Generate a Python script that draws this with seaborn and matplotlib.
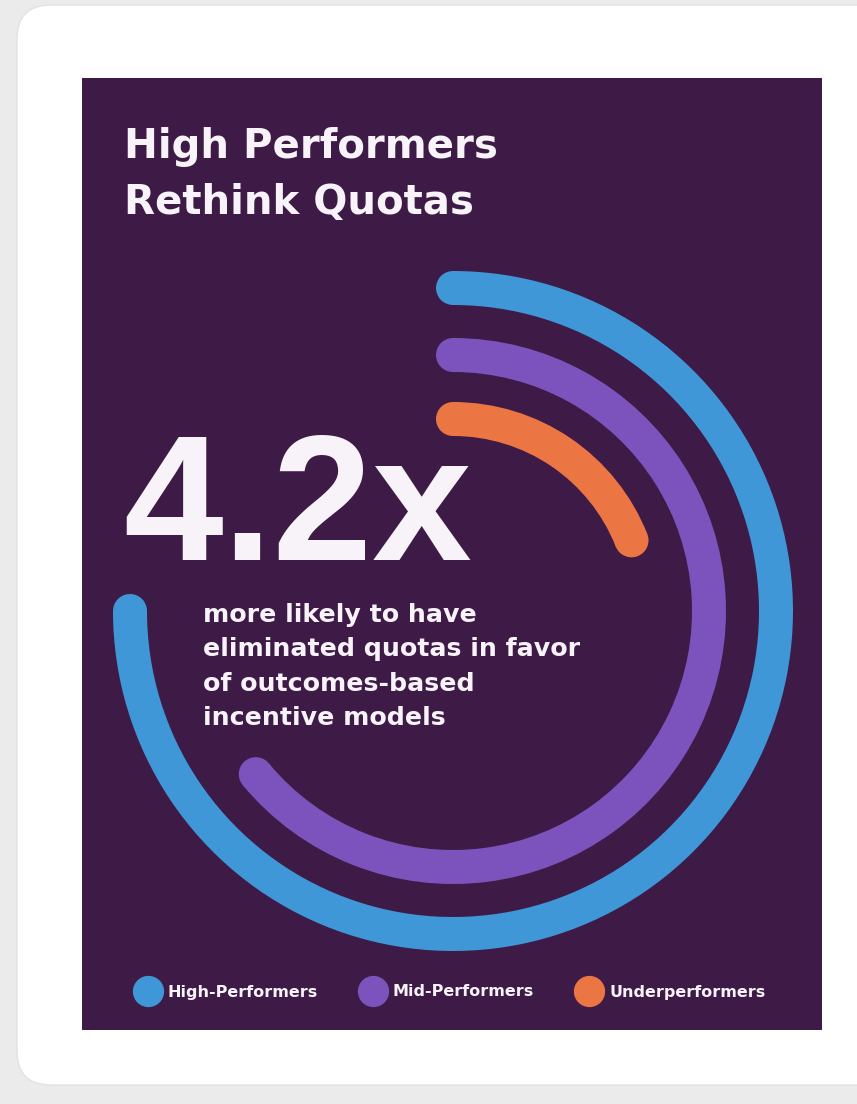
import numpy as np
import pandas as pd
import seaborn as sns
import matplotlib
matplotlib.use("Agg")
import matplotlib.pyplot as plt
from matplotlib.patches import FancyBboxPatch, Rectangle
from matplotlib.lines import Line2D

# ---- data ----
groups = ["High-Performers", "Mid-Performers", "Underperformers"]
share_of_circle = [75, 64, 19]          # % of a full turn covered by each arc
colors = ["#3f97d8", "#7c53bc", "#ec7544"]
title_lines = ["High Performers", "Rethink Quotas"]
headline = "4.2x"
body_lines = ["more likely to have", "eliminated quotas in favor",
              "of outcomes-based", "incentive models"]

# ---- layout (pixels) ----
W, H = 857, 1104
cx, cy = 453, 611
ring_r = [323, 256, 192]
STROKE = 34
RLIM = 345

sns.set_theme(style="white")
plt.rcParams["font.family"] = ["DejaVu Sans"]

fig = plt.figure(figsize=(W / 100, H / 100), dpi=100)
fig.patch.set_facecolor("#ebebeb")

# background axes: card + panel
bg = fig.add_axes([0, 0, 1, 1], zorder=0)
bg.set_xlim(0, W); bg.set_ylim(H, 0); bg.axis("off")
bg.add_patch(FancyBboxPatch((17, 5), 900, 1080,
                            boxstyle="round,pad=0,rounding_size=34",
                            fc="white", ec="#e2e2e2", lw=1))
bg.add_patch(Rectangle((82, 78), 740, 952, fc="#3d1b46", ec="none"))

# polar axes for the arcs
pax = fig.add_axes([(cx - RLIM) / W, (H - cy - RLIM) / H, 2 * RLIM / W, 2 * RLIM / H],
                   projection="polar", zorder=2)
pax.set_theta_zero_location("N")
pax.set_theta_direction(-1)

df = pd.DataFrame({"group": groups, "share": share_of_circle, "ring": ring_r})
df["theta_end"] = df["share"] / 100 * 2 * np.pi

pax.bar(x=np.zeros(len(df)), width=df["theta_end"], bottom=df["ring"] - STROKE / 2,
        height=STROKE, align="edge", color=colors, edgecolor="none")
# rounded caps at both ends of each arc
caps = pd.concat([
    pd.DataFrame({"group": df["group"], "theta": 0.0, "r": df["ring"]}),
    pd.DataFrame({"group": df["group"], "theta": df["theta_end"], "r": df["ring"]}),
])
sns.scatterplot(data=caps, x="theta", y="r", hue="group", hue_order=groups,
                palette=colors, s=(STROKE * 0.72) ** 2, linewidth=0,
                legend=False, ax=pax, zorder=3)
pax.set_rlim(0, RLIM)
pax.patch.set_alpha(0)
pax.axis("off")

# overlay for text + legend
ov = fig.add_axes([0, 0, 1, 1], zorder=5)
ov.set_xlim(0, W); ov.set_ylim(H, 0); ov.axis("off")
ov.patch.set_alpha(0)
txt = "#f8f3f8"
ov.text(124, 158, title_lines[0], color=txt, fontsize=29, fontweight="bold",
        va="baseline", ha="left")
ov.text(124, 214, title_lines[1], color=txt, fontsize=29, fontweight="bold",
        va="baseline", ha="left")
ov.text(123, 560, headline, color=txt, fontsize=129, fontweight="bold",
        family=["Liberation Sans", "DejaVu Sans"], va="baseline", ha="left")
for i, line in enumerate(body_lines):
    ov.text(203, 622 + i * 34.3, line, color=txt, fontsize=18.2,
            fontweight="bold", va="baseline", ha="left")

handles = [Line2D([0], [0], marker="o", linestyle="none", markersize=21.5,
                  markerfacecolor=c, markeredgecolor=c) for c in colors]
leg = ov.legend(handles, groups, loc="center left",
                bbox_to_anchor=(134 / W, 1 - 992 / H), ncol=3, frameon=False,
                handlelength=1.7, handletextpad=0.4, columnspacing=2.6,
                borderaxespad=0, borderpad=0,
                prop={"weight": "bold", "size": 11.5})
for t in leg.get_texts():
    t.set_color(txt)

fig.savefig("out.png", dpi=100, facecolor=fig.get_facecolor())
